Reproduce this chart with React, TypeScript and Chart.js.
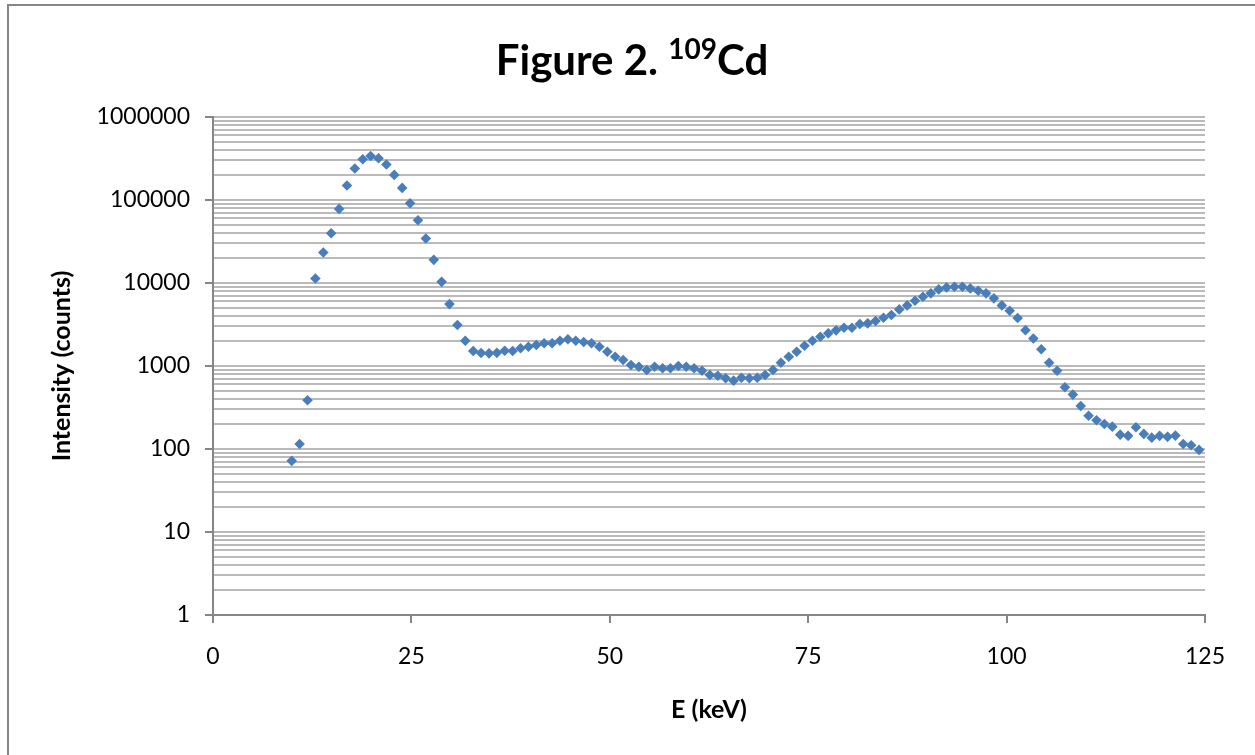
import React, { useEffect, useRef } from 'react';
import { Chart, registerables } from 'chart.js';

Chart.register(...registerables);

// Energy of each channel (keV)
const energies = [
  9.92, 10.91, 11.91, 12.9, 13.9, 14.89, 15.89, 16.88, 17.87, 18.87,
  19.86, 20.86, 21.85, 22.84, 23.84, 24.83, 25.83, 26.82, 27.82, 28.81,
  29.8, 30.8, 31.79, 32.79, 33.78, 34.78, 35.77, 36.76, 37.76, 38.75,
  39.75, 40.74, 41.73, 42.73, 43.72, 44.72, 45.71, 46.71, 47.7, 48.69,
  49.69, 50.68, 51.68, 52.67, 53.66, 54.66, 55.65, 56.65, 57.64, 58.64,
  59.63, 60.62, 61.62, 62.61, 63.61, 64.6, 65.6, 66.59, 67.58, 68.58,
  69.57, 70.57, 71.56, 72.55, 73.55, 74.54, 75.54, 76.53, 77.53, 78.52,
  79.51, 80.51, 81.5, 82.5, 83.49, 84.49, 85.48, 86.47, 87.47, 88.46,
  89.46, 90.45, 91.44, 92.44, 93.43, 94.43, 95.42, 96.42, 97.41, 98.4,
  99.4, 100.39, 101.39, 102.38, 103.37, 104.37, 105.36, 106.36, 107.35, 108.35,
  109.34, 110.33, 111.33, 112.32, 113.32, 114.31, 115.31, 116.3, 117.29, 118.29,
  119.28, 120.28, 121.27, 122.26, 123.26, 124.25,
];

// Intensity (counts)
const counts = [
  72, 115, 387, 11350, 23350, 39800, 78100, 149400, 239300, 309700,
  339400, 318400, 267500, 200500, 139900, 91500, 57100, 34400, 19000, 10330,
  5570, 3113, 2015, 1515, 1433, 1420, 1440, 1528, 1515, 1633,
  1708, 1790, 1876, 1880, 2015, 2096, 2015, 1945, 1876, 1708,
  1486, 1294, 1181, 1028, 981, 895, 981, 938, 940, 1000,
  981, 938, 878, 779, 764, 711, 666, 723, 711, 723,
  779, 895, 1096, 1294, 1486, 1755, 2015, 2252, 2475, 2690,
  2890, 2895, 3200, 3265, 3480, 3810, 4110, 4810, 5375, 6105,
  6820, 7500, 8375, 8850, 9000, 9010, 8610, 8055, 7500, 6530,
  5375, 4630, 3780, 2697, 2143, 1592, 1096, 875, 554, 452,
  330, 252, 222, 200, 186, 149, 144, 183, 152, 137,
  144, 140, 145, 115, 111, 97.5,
];

const xTickStep = 25;
const xMin = 0;
const xMax = 125;
const yDecades = [1, 10, 100, 1000, 10000, 100000, 1000000];
const yMinorMultipliers = [2, 3, 4, 5, 6, 7, 8, 9];

const titleMain = 'Figure 2. ';
const titleSup = '109';
const titleEnd = 'Cd';
const xTitle = 'E (keV)';
const yTitle = 'Intensity (counts)';

const FONT = 'Lato, "Open Sans", sans-serif';
const AXIS_GRAY = '#868686';
const GRID_GRAY = '#bababa';
const MARKER = '#4A7EBB';

const W = 1255;
const H = 755;

const frameAndTitle = {
  id: 'frameAndTitle',
  beforeDraw(chart: any) {
    const ctx = chart.ctx;
    ctx.save();
    ctx.strokeStyle = AXIS_GRAY;
    ctx.lineWidth = 2;
    ctx.beginPath();
    ctx.moveTo(8, H + 10);
    ctx.lineTo(8, 5);
    ctx.lineTo(W + 10, 5);
    ctx.stroke();
    ctx.restore();
  },
  afterDraw(chart: any) {
    const ctx = chart.ctx;
    ctx.save();
    ctx.fillStyle = '#000';
    ctx.textBaseline = 'alphabetic';
    const mainFont = `bold 42px ${FONT}`;
    const supFont = `bold 28px ${FONT}`;
    ctx.font = mainFont;
    const w1 = ctx.measureText(titleMain).width;
    const w3 = ctx.measureText(titleEnd).width;
    ctx.font = supFont;
    const w2 = ctx.measureText(titleSup).width;
    const total = w1 + w2 + w3;
    const cx = 632;
    let x = cx - total / 2;
    const baseline = 75;
    ctx.font = mainFont;
    ctx.fillText(titleMain, x, baseline);
    x += w1;
    ctx.font = supFont;
    ctx.fillText(titleSup, x, baseline - 16);
    x += w2;
    ctx.font = mainFont;
    ctx.fillText(titleEnd, x, baseline);
    ctx.restore();
  },
};

export default function App() {
  const canvasRef = useRef<HTMLCanvasElement | null>(null);

  useEffect(() => {
    if (!canvasRef.current) return;
    const points = energies.map((e, i) => ({ x: e, y: counts[i] }));
    const yGridValues: number[] = [];
    yDecades.forEach((d, i) => {
      yGridValues.push(d);
      if (i < yDecades.length - 1) yMinorMultipliers.forEach((m) => yGridValues.push(d * m));
    });

    const chart = new Chart(canvasRef.current, {
      type: 'scatter',
      data: {
        datasets: [
          {
            data: points,
            showLine: false,
            pointStyle: 'rectRot',
            pointRadius: 5.3,
            pointHoverRadius: 5.3,
            backgroundColor: MARKER,
            borderColor: MARKER,
            borderWidth: 0,
          },
        ],
      },
      options: {
        responsive: false,
        animation: false,
        devicePixelRatio: 1,
        layout: { padding: { left: 0, right: 50, top: 117, bottom: 0 } },
        plugins: {
          legend: { display: false },
          title: { display: false },
          tooltip: { enabled: false },
        },
        scales: {
          x: {
            type: 'linear',
            min: xMin,
            max: xMax,
            afterFit(scale: any) {
              scale.height = H - 615;
            },
            ticks: {
              stepSize: xTickStep,
              padding: 20,
              color: '#000',
              font: { family: FONT, size: 23 },
              maxRotation: 0,
            },
            grid: {
              drawOnChartArea: false,
              drawTicks: true,
              tickLength: 8,
              color: AXIS_GRAY,
              lineWidth: 2,
            },
            border: { color: AXIS_GRAY, width: 2 },
            title: {
              display: true,
              text: xTitle,
              color: '#000',
              font: { family: FONT, size: 25, weight: 'bold' },
              padding: { top: 0, bottom: 30 },
            },
          },
          y: {
            type: 'logarithmic',
            min: 1,
            max: 1000000,
            afterFit(scale: any) {
              scale.width = 213;
            },
            afterBuildTicks(scale: any) {
              scale.ticks = yGridValues.map((v) => ({ value: v, major: yDecades.includes(v) }));
            },
            ticks: {
              autoSkip: false,
              padding: 15,
              color: '#000',
              font: { family: FONT, size: 23 },
              callback: (value: any) => (yDecades.includes(Number(value)) ? String(value) : ''),
            },
            grid: {
              drawTicks: true,
              tickLength: 8,
              color: GRID_GRAY,
              lineWidth: 2,
              tickColor: (ctx: any) => (ctx.tick && ctx.tick.major ? AXIS_GRAY : 'rgba(0,0,0,0)'),
            },
            border: { color: AXIS_GRAY, width: 2 },
            title: {
              display: true,
              text: yTitle,
              color: '#000',
              font: { family: FONT, size: 25, weight: 'bold' },
              padding: { top: 47, bottom: 0 },
            },
          },
        },
      },
      plugins: [frameAndTitle],
    } as any);

    return () => chart.destroy();
  }, []);

  return (
    <div style={{ position: 'absolute', left: 0, top: 0, width: W, height: H, background: '#fff' }}>
      <canvas ref={canvasRef} width={W} height={H} style={{ display: 'block', width: W, height: H }} />
    </div>
  );
}
